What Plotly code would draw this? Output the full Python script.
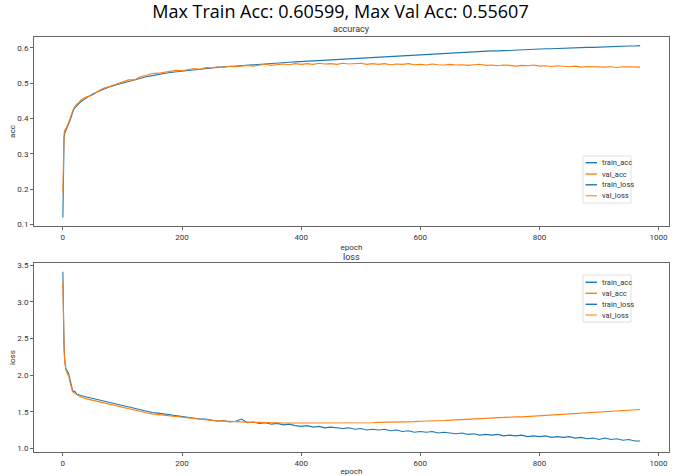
import plotly.graph_objects as go

epochs = [0, 1, 2, 3, 4, 5, 6, 8, 10, 12, 14, 16, 18, 20, 23, 26, 30,
          40, 50, 60, 70, 80, 90, 100, 110, 120, 130, 140, 150, 160, 170, 180, 190, 200,
          210, 220, 230, 240, 250, 260, 270, 280, 290, 300, 310, 320, 330, 340, 350, 360,
          370, 380, 390, 400, 410, 420, 430, 440, 450, 460, 470, 480, 490, 500, 510, 520,
          530, 540, 550, 560, 570, 580, 590, 600, 610, 620, 630, 640, 650, 660, 670, 680,
          690, 700, 710, 720, 730, 740, 750, 760, 770, 780, 790, 800, 810, 820, 830, 840,
          850, 860, 870, 880, 890, 900, 910, 920, 930, 940, 950, 960, 969]

train_acc = [0.120, 0.300, 0.345, 0.357, 0.362, 0.366, 0.370, 0.378, 0.386, 0.394, 0.405, 0.418, 0.425, 0.430, 0.436, 0.441, 0.447,
             0.458, 0.469, 0.477, 0.484, 0.490, 0.495, 0.500, 0.505, 0.510, 0.514, 0.518, 0.521, 0.525, 0.527, 0.530, 0.532, 0.534,
             0.536, 0.538, 0.540, 0.542, 0.543, 0.545, 0.546, 0.547, 0.548, 0.550, 0.551, 0.552, 0.553, 0.554, 0.556, 0.557,
             0.558, 0.559, 0.560, 0.561, 0.562, 0.563, 0.564, 0.565, 0.566, 0.567, 0.568, 0.569, 0.570, 0.571, 0.572, 0.573,
             0.574, 0.575, 0.576, 0.577, 0.578, 0.579, 0.580, 0.581, 0.582, 0.583, 0.584, 0.584, 0.585, 0.586, 0.587, 0.588,
             0.588, 0.589, 0.590, 0.591, 0.591, 0.592, 0.593, 0.593, 0.594, 0.595, 0.595, 0.596, 0.597, 0.597, 0.598, 0.598,
             0.599, 0.600, 0.600, 0.601, 0.601, 0.602, 0.602, 0.603, 0.604, 0.604, 0.605, 0.605, 0.606]

val_acc = [0.190, 0.330, 0.358, 0.366, 0.368, 0.372, 0.374, 0.383, 0.390, 0.399, 0.410, 0.421, 0.428, 0.433, 0.440, 0.443, 0.452,
           0.461, 0.466, 0.478, 0.487, 0.491, 0.497, 0.502, 0.509, 0.509, 0.518, 0.522, 0.527, 0.528, 0.530, 0.533, 0.536, 0.535,
           0.539, 0.541, 0.539, 0.544, 0.543, 0.546, 0.544, 0.548, 0.546, 0.549, 0.550, 0.548, 0.551, 0.553, 0.550, 0.553,
           0.554, 0.552, 0.555, 0.553, 0.555, 0.553, 0.556, 0.554, 0.555, 0.553, 0.556, 0.554, 0.555, 0.556, 0.553, 0.555,
           0.553, 0.555, 0.552, 0.554, 0.553, 0.555, 0.552, 0.553, 0.551, 0.554, 0.552, 0.551, 0.553, 0.551, 0.552, 0.550,
           0.552, 0.553, 0.550, 0.551, 0.549, 0.551, 0.550, 0.548, 0.550, 0.549, 0.551, 0.548, 0.549, 0.547, 0.549, 0.548,
           0.546, 0.548, 0.545, 0.547, 0.546, 0.547, 0.545, 0.546, 0.544, 0.546, 0.545, 0.546, 0.545]

train_loss = [3.41, 2.70, 2.39, 2.22, 2.12, 2.09, 2.07, 2.05, 2.01, 1.93, 1.84, 1.80, 1.77, 1.78, 1.74, 1.73, 1.72,
              1.70, 1.68, 1.66, 1.64, 1.63, 1.61, 1.59, 1.56, 1.54, 1.53, 1.51, 1.49, 1.48, 1.47, 1.45, 1.44, 1.43,
              1.42, 1.41, 1.40, 1.40, 1.39, 1.37, 1.38, 1.36, 1.37, 1.40, 1.35, 1.36, 1.34, 1.35, 1.33, 1.34,
              1.32, 1.33, 1.31, 1.30, 1.31, 1.29, 1.30, 1.28, 1.29, 1.28, 1.27, 1.28, 1.26, 1.27, 1.25, 1.26,
              1.25, 1.26, 1.24, 1.25, 1.23, 1.24, 1.22, 1.23, 1.22, 1.23, 1.21, 1.22, 1.21, 1.20, 1.21, 1.19,
              1.20, 1.18, 1.19, 1.18, 1.19, 1.17, 1.18, 1.17, 1.18, 1.16, 1.17, 1.16, 1.17, 1.15, 1.16, 1.15,
              1.16, 1.14, 1.15, 1.13, 1.14, 1.12, 1.14, 1.12, 1.13, 1.11, 1.12, 1.10, 1.10]

val_loss = [3.28, 2.60, 2.35, 2.20, 2.11, 2.07, 2.05, 2.02, 1.98, 1.90, 1.82, 1.78, 1.76, 1.75, 1.73, 1.71, 1.70,
            1.675, 1.655, 1.64, 1.62, 1.60, 1.58, 1.565, 1.545, 1.52, 1.50, 1.485, 1.47, 1.46, 1.45, 1.44, 1.43, 1.42,
            1.41, 1.40, 1.39, 1.385, 1.38, 1.375, 1.37, 1.37, 1.365, 1.36, 1.36, 1.355, 1.355, 1.35, 1.35, 1.35,
            1.345, 1.345, 1.345, 1.345, 1.34, 1.34, 1.34, 1.34, 1.34, 1.34, 1.345, 1.345, 1.345, 1.35, 1.35, 1.35,
            1.355, 1.355, 1.36, 1.36, 1.36, 1.365, 1.365, 1.37, 1.37, 1.375, 1.38, 1.38, 1.385, 1.39, 1.39, 1.395,
            1.40, 1.40, 1.405, 1.41, 1.415, 1.42, 1.425, 1.43, 1.43, 1.435, 1.44, 1.445, 1.45, 1.455, 1.46, 1.465,
            1.47, 1.475, 1.48, 1.49, 1.495, 1.50, 1.505, 1.51, 1.515, 1.52, 1.525, 1.53, 1.53]

title_text = "Max Train Acc: 0.60599, Max Val Acc: 0.55607"
legend_names = ["train_acc", "val_acc", "train_loss", "val_loss"]
legend_colors = ["#1f77b4", "#ff7f0e", "#1f77b4", "#ffa04a"]
x_ticks = [0, 200, 400, 600, 800, 1000]
acc_ticks = [0.1, 0.2, 0.3, 0.4, 0.5, 0.6]
loss_ticks = [1.0, 1.5, 2.0, 2.5, 3.0, 3.5]

BLUE = "#1f77b4"
ORANGE = "#ff7f0e"
SMALL = "Liberation Sans Narrow, Roboto, DejaVu Sans"
TICKF = dict(family=SMALL, size=8, color="#333333")
LABF = dict(family=SMALL, size=8, color="#333333")

W, H = 681, 476
ML, MR, MT, MB = 34, 12, 37, 24
PW, PH = W - ML - MR, H - MT - MB


def px_x(px):
    return (px - ML) / PW


def px_y(py):
    return (H - MB - py) / PH


fig = go.Figure()
fig.add_trace(go.Scatter(x=epochs, y=train_acc, name="train_acc", mode="lines",
                         line=dict(color=BLUE, width=1.1), xaxis="x", yaxis="y", showlegend=False))
fig.add_trace(go.Scatter(x=epochs, y=val_acc, name="val_acc", mode="lines",
                         line=dict(color=ORANGE, width=1.1), xaxis="x", yaxis="y", showlegend=False))
fig.add_trace(go.Scatter(x=epochs, y=train_loss, name="train_loss", mode="lines",
                         line=dict(color=BLUE, width=1.1), xaxis="x2", yaxis="y2", showlegend=False))
fig.add_trace(go.Scatter(x=epochs, y=val_loss, name="val_loss", mode="lines",
                         line=dict(color=ORANGE, width=1.1), xaxis="x2", yaxis="y2", showlegend=False))

axis_common = dict(showline=True, linecolor="#666666", linewidth=1, mirror=True,
                   showgrid=False, zeroline=False, ticks="outside", ticklen=3,
                   tickcolor="#666666", tickfont=TICKF, automargin=False)

shapes = []
annotations = [
    dict(text="accuracy", x=0.5, y=1, xref="paper", yref="paper", xanchor="center",
         yanchor="bottom", yshift=1, showarrow=False, font=dict(family=SMALL, size=9, color="#333")),
    dict(text="loss", x=0.5, y=px_y(263), xref="paper", yref="paper", xanchor="center",
         yanchor="bottom", yshift=-1, showarrow=False, font=dict(family=SMALL, size=9, color="#333")),
]

# legend boxes (matplotlib-style, one per subplot)
for box_top, rows in [(156, [162.7, 174.0, 184.8, 195.7]), (275, [282.3, 293.3, 304.3, 315.0])]:
    shapes.append(dict(type="rect", xref="paper", yref="paper",
                       x0=px_x(583), x1=px_x(631), y0=px_y(box_top + 47), y1=px_y(box_top),
                       line=dict(color="#e0e0e0", width=1), fillcolor="white", layer="above"))
    for name, color, ry in zip(legend_names, legend_colors, rows):
        shapes.append(dict(type="line", xref="paper", yref="paper",
                           x0=px_x(585.5), x1=px_x(597), y0=px_y(ry), y1=px_y(ry),
                           line=dict(color=color, width=1.4), layer="above"))
        annotations.append(dict(text=name, x=px_x(600), y=px_y(ry), xref="paper", yref="paper",
                                xanchor="left", yanchor="middle", showarrow=False,
                                font=dict(family=SMALL, size=7.5, color="#333")))

fig.update_layout(
    width=W, height=H,
    margin=dict(l=ML, r=MR, t=MT, b=MB, autoexpand=False),
    paper_bgcolor="white", plot_bgcolor="white",
    showlegend=False,
    title=dict(text=title_text, x=0.5, xref="container", xanchor="center",
               y=1 - 12 / H, yref="container", yanchor="middle",
               font=dict(family="Open Sans", size=18, color="black")),
    xaxis=dict(domain=[0, 1], range=[-48.45, 1017.45], tickvals=x_ticks, anchor="y",
               title=dict(text="epoch", font=LABF, standoff=3), **axis_common),
    yaxis=dict(domain=[px_y(226), 1], range=[0.0957, 0.6303], tickvals=acc_ticks, anchor="x",
               tickformat=".1f", title=dict(text="acc", font=LABF, standoff=0), **axis_common),
    xaxis2=dict(domain=[0, 1], range=[-48.45, 1017.45], tickvals=x_ticks, anchor="y2",
                title=dict(text="epoch", font=LABF, standoff=3), **axis_common),
    yaxis2=dict(domain=[0, px_y(263)], range=[0.95, 3.53], tickvals=loss_ticks, anchor="x2",
                tickformat=".1f", title=dict(text="loss", font=LABF, standoff=0), **axis_common),
    shapes=shapes,
    annotations=annotations,
)

fig.write_html("out.html",
               config={"displayModeBar": False},
               post_script="document.body.style.margin='0';document.body.style.overflow='hidden';")
